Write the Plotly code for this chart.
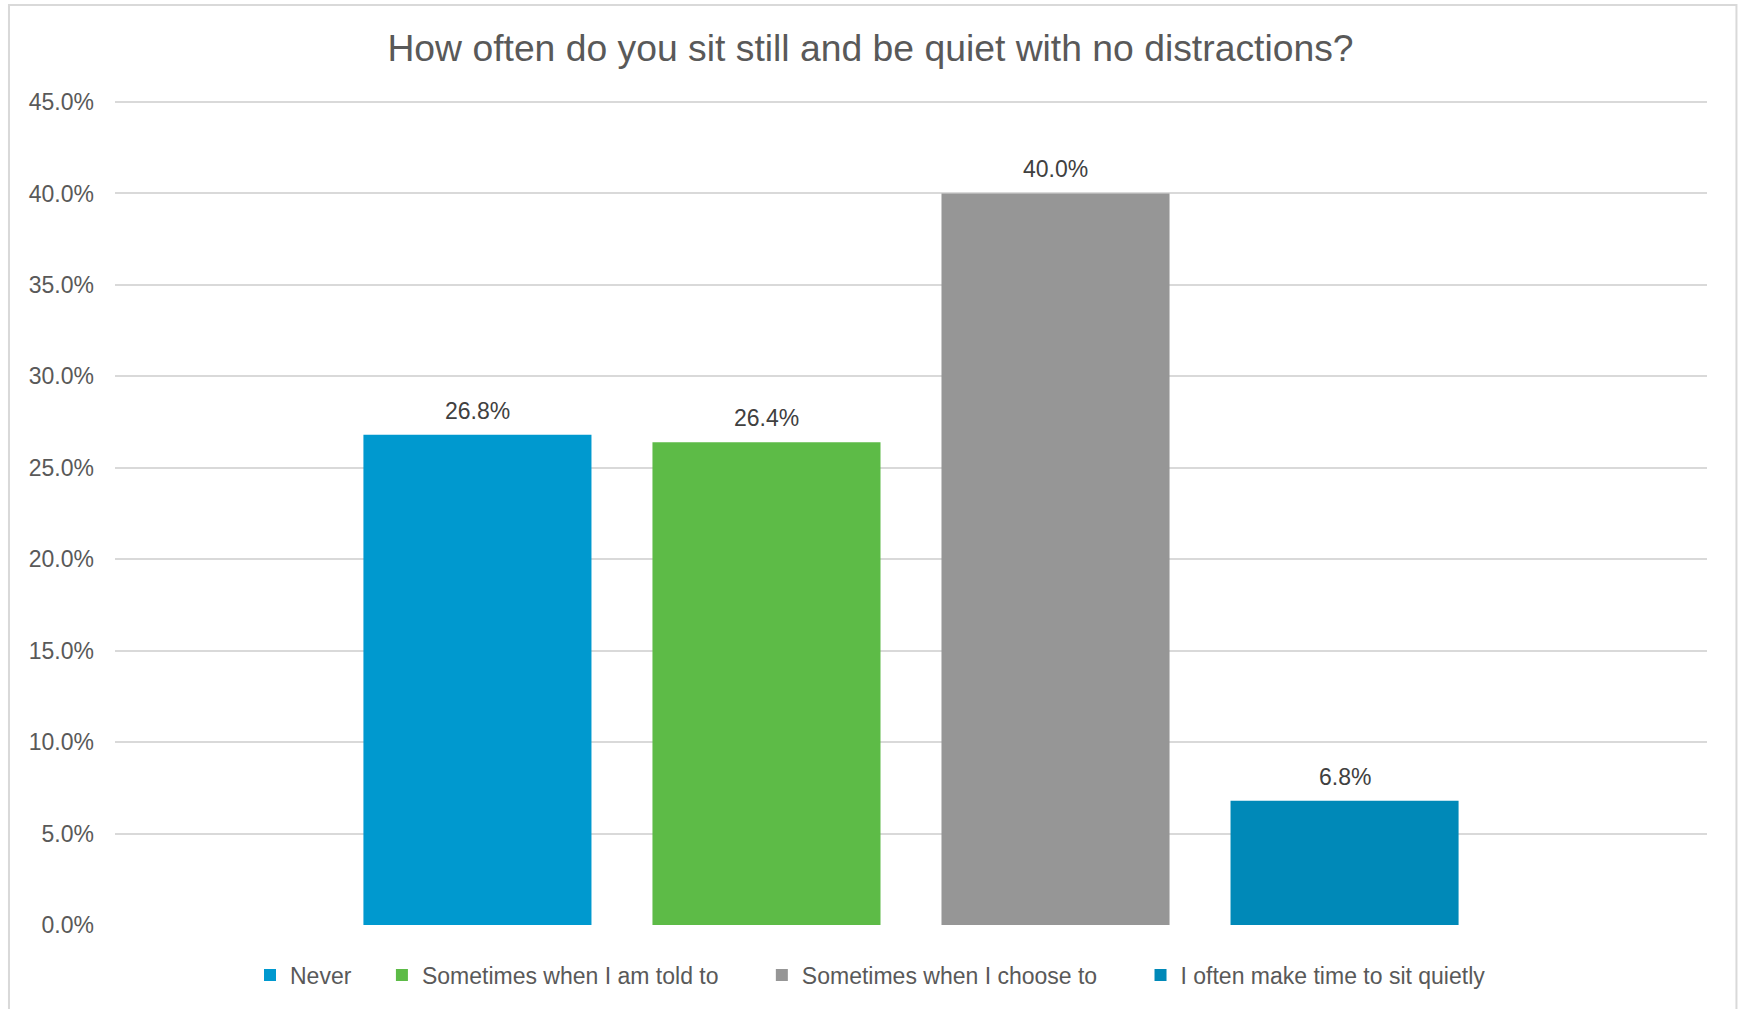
import plotly.graph_objects as go

# Survey responses
categories = [
    "Never",
    "Sometimes when I am told to",
    "Sometimes when I choose to",
    "I often make time to sit quietly",
]
shares = [0.268, 0.264, 0.400, 0.068]
colors = ["#0099CF", "#5DBB47", "#969696", "#0089B8"]

title_text = "How often do you sit still and be quiet with no distractions?"
y_ticks = [0.0, 0.05, 0.10, 0.15, 0.20, 0.25, 0.30, 0.35, 0.40, 0.45]

FONT = "Liberation Sans, Arial, sans-serif"
TEXT_GREY = "#595959"
GRID = "#D9D9D9"
# extra room after each legend entry (none after the last one)
legend_pad = [4, 6, 6, 0]

# plot area geometry: 0% line at 925px, 45% line at 102px
TOP_MARGIN = 98
Y_MAX = 0.45 * (925 - TOP_MARGIN) / (925 - 102)

fig = go.Figure()
for cat, val, col, pad in zip(categories, shares, colors, legend_pad):
    fig.add_trace(
        go.Bar(
            x=[cat],
            y=[val],
            name=cat + "\u00a0" * pad,
            marker=dict(color=col, line=dict(width=0)),
            width=0.789,
            hoverinfo="skip",
        )
    )
    # value label sitting above each bar
    fig.add_annotation(
        x=cat,
        y=val,
        text=f"{val:.1%}",
        showarrow=False,
        yanchor="bottom",
        yshift=9,
        font=dict(family=FONT, size=23, color="#404040"),
    )

# thin frame around the whole chart area
plot_h = 925 - TOP_MARGIN
fig.add_shape(
    type="rect",
    xref="paper",
    yref="paper",
    x0=-0.0666,
    x1=1.0185,
    y0=-0.12,
    y1=(925 - 5) / plot_h,
    line=dict(color=GRID, width=2),
    fillcolor="rgba(0,0,0,0)",
    layer="below",
)

fig.update_layout(
    width=1741,
    height=1009,
    margin=dict(l=115, r=34, t=TOP_MARGIN, b=84),
    paper_bgcolor="white",
    plot_bgcolor="white",
    barmode="overlay",
    font=dict(family=FONT, color=TEXT_GREY),
    title=dict(
        text=title_text,
        x=0.5,
        xref="container",
        xanchor="center",
        y=1 - 48 / 1009,
        yref="container",
        yanchor="middle",
        font=dict(family=FONT, size=37.3, color=TEXT_GREY),
    ),
    xaxis=dict(
        type="category",
        categoryorder="array",
        categoryarray=categories,
        range=[-1.254, 4.254],
        showticklabels=False,
        showgrid=False,
        zeroline=False,
        showline=False,
        ticks="",
        fixedrange=True,
    ),
    yaxis=dict(
        range=[0, Y_MAX],
        tickvals=y_ticks,
        tickformat=".1%",
        showgrid=True,
        gridcolor=GRID,
        gridwidth=2,
        zeroline=False,
        showline=False,
        ticks="",
        ticklabelstandoff=20,
        tickfont=dict(family=FONT, size=23, color=TEXT_GREY),
        fixedrange=True,
    ),
    legend=dict(
        orientation="h",
        xref="container",
        yref="container",
        x=0.5,
        xanchor="center",
        y=1 - 975 / 1009,
        yanchor="middle",
        font=dict(family=FONT, size=23, color=TEXT_GREY),
        itemclick=False,
        itemdoubleclick=False,
        bgcolor="rgba(0,0,0,0)",
    ),
    showlegend=True,
)

fig.write_html("out.html", config={"displayModeBar": False})
